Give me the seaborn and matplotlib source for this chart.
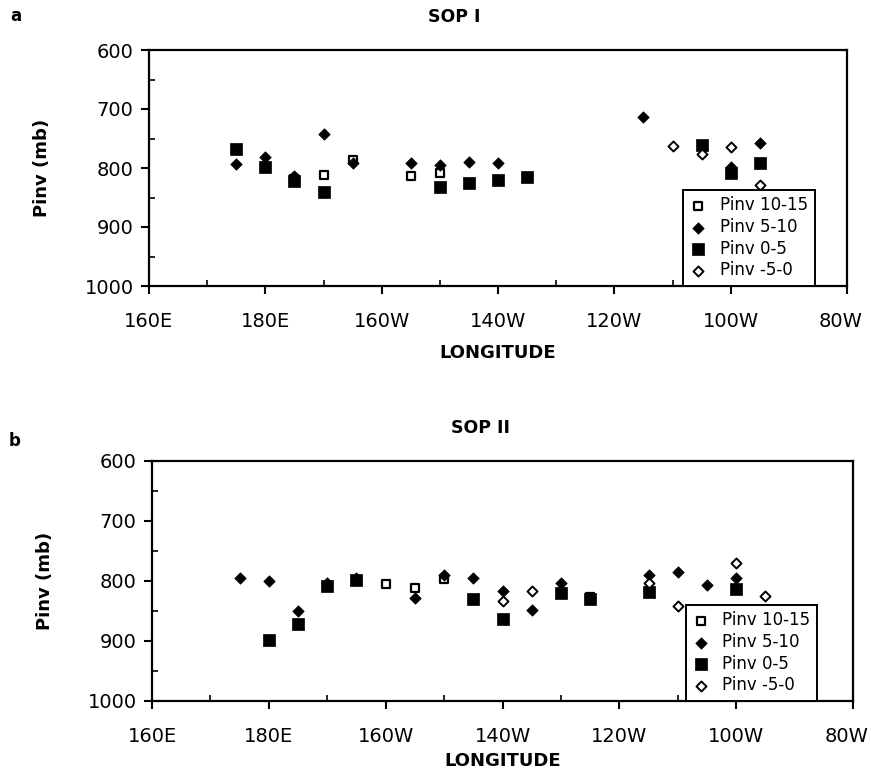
import matplotlib
matplotlib.use("Agg")
import matplotlib.pyplot as plt
import matplotlib.transforms as mtransforms
import seaborn as sns
import pandas as pd
from matplotlib.ticker import MultipleLocator

sns.set_style("ticks")
plt.rcParams['font.family'] = ['DejaVu Sans']
plt.rcParams['text.color'] = 'black'
plt.rcParams['axes.labelcolor'] = 'black'
plt.rcParams['xtick.color'] = 'black'
plt.rcParams['ytick.color'] = 'black'

# Longitude in degrees east (160E=160, 180=180, 160W=200, ... 80W=280)
xtick_vals = [160, 180, 200, 220, 240, 260, 280]
xtick_labels = ["160E", "180E", "160W", "140W", "120W", "100W", "80W"]
ytick_vals = [600, 700, 800, 900, 1000]

series_names = ["Pinv 10-15", "Pinv 5-10", "Pinv 0-5", "Pinv -5-0"]

# SOP I
sop1_lon_10_15 = [185, 190, 195, 205, 210]
sop1_p_10_15 = [818, 812, 787, 813, 809]
sop1_lon_5_10 = [175, 180, 185, 190, 195, 205, 210, 215, 220, 245, 260, 265]
sop1_p_5_10 = [793, 781, 814, 742, 792, 792, 795, 789, 791, 713, 798, 758]
sop1_lon_0_5 = [175, 180, 185, 190, 210, 215, 220, 225, 255, 260, 265]
sop1_p_0_5 = [768, 798, 822, 841, 833, 825, 821, 815, 761, 808, 791]
sop1_lon_m5_0 = [250, 255, 260, 265]
sop1_p_m5_0 = [762, 776, 764, 828]

# SOP II
sop2_lon_10_15 = [200, 205, 210, 235]
sop2_p_10_15 = [805, 812, 797, 827]
sop2_lon_5_10 = [175, 180, 185, 190, 195, 205, 210, 215, 220, 225, 230, 245, 250, 255, 260]
sop2_p_5_10 = [795, 800, 850, 804, 795, 828, 790, 795, 817, 848, 803, 790, 785, 807, 795]
sop2_lon_0_5 = [180, 185, 190, 195, 215, 220, 230, 235, 245, 260]
sop2_p_0_5 = [898, 872, 808, 798, 830, 863, 820, 830, 818, 813]
sop2_lon_m5_0 = [220, 225, 245, 250, 260, 265]
sop2_p_m5_0 = [833, 817, 803, 842, 770, 825]

styles = {
    "Pinv 10-15": dict(marker="s", s=40, facecolor="white", edgecolor="black", linewidth=1.6),
    "Pinv 5-10": dict(marker="D", s=34, facecolor="black", edgecolor="black", linewidth=0.5),
    "Pinv 0-5": dict(marker="s", s=70, facecolor="black", edgecolor="black", linewidth=0.5),
    "Pinv -5-0": dict(marker="D", s=26, facecolor="white", edgecolor="black", linewidth=1.4),
}

def make_df(lons, ps):
    rows = []
    for name, lo, pv in zip(series_names, lons, ps):
        for a, b in zip(lo, pv):
            rows.append((name, a, b))
    return pd.DataFrame(rows, columns=["series", "lon", "pinv"])

df1 = make_df([sop1_lon_10_15, sop1_lon_5_10, sop1_lon_0_5, sop1_lon_m5_0],
              [sop1_p_10_15, sop1_p_5_10, sop1_p_0_5, sop1_p_m5_0])
df2 = make_df([sop2_lon_10_15, sop2_lon_5_10, sop2_lon_0_5, sop2_lon_m5_0],
              [sop2_p_10_15, sop2_p_5_10, sop2_p_0_5, sop2_p_m5_0])

fig = plt.figure(figsize=(8.71, 7.75), dpi=100)
W, H = 871, 775

def add_axes(l, r, t, b):
    return fig.add_axes([l / W, 1 - b / H, (r - l) / W, (b - t) / H])

ax1 = add_axes(149, 847, 50, 286)
ax2 = add_axes(152, 853, 461, 701)

def draw(ax, df, title, title_x, letter, letter_xy, leg_x, xlabelpad):
    for name in series_names:
        sub = df[df["series"] == name]
        st = styles[name]
        sns.scatterplot(data=sub, x="lon", y="pinv", ax=ax, marker=st["marker"], s=st["s"],
                        facecolor=st["facecolor"], edgecolor=st["edgecolor"],
                        linewidth=st["linewidth"], label=name, zorder=3)
    ax.set_xlim(160, 280)
    ax.set_ylim(1000, 600)
    ax.set_xticks(xtick_vals)
    ax.set_xticklabels(xtick_labels)
    ax.set_yticks(ytick_vals)
    ax.xaxis.set_minor_locator(MultipleLocator(10))
    ax.yaxis.set_minor_locator(MultipleLocator(50))
    ax.tick_params(axis="both", which="major", direction="out", length=6, width=1.5,
                   labelsize=14, color="black", labelcolor="black")
    ax.tick_params(axis="x", which="major", pad=13)
    ax.tick_params(axis="y", which="major", pad=5)
    ax.tick_params(axis="both", which="minor", direction="in", length=4, width=1.2)
    ax.tick_params(axis="y", which="both", right=False)
    ax.tick_params(axis="x", which="both", top=False)
    # shift last x label slightly left as in the reference
    lbl = ax.get_xticklabels()[-1]
    lbl.set_transform(lbl.get_transform() + mtransforms.ScaledTranslation(-6 / 100, 0, fig.dpi_scale_trans))
    for sp in ax.spines.values():
        sp.set_visible(True)
        sp.set_linewidth(1.6)
        sp.set_color("black")
    ax.set_xlabel("LONGITUDE", fontsize=13, fontweight="bold", labelpad=xlabelpad)
    ax.set_ylabel("Pinv (mb)", fontsize=13, fontweight="bold", labelpad=24)
    ax.set_title(title, fontsize=12.5, fontweight="bold", pad=20, x=title_x)
    fig.text(letter_xy[0] / W, 1 - letter_xy[1] / H, letter, fontsize=12, fontweight="bold",
             va="center", ha="left")
    leg = ax.legend(loc="lower right", bbox_to_anchor=(leg_x, 0.0), borderaxespad=0,
                    fontsize=12, frameon=True, fancybox=False, handletextpad=0.8,
                    labelspacing=0.22, borderpad=0.4, handlelength=1.0)
    leg.get_frame().set_edgecolor("black")
    leg.get_frame().set_linewidth(1.4)
    leg.get_frame().set_alpha(1)
    for t in leg.get_texts():
        t.set_color("black")

draw(ax1, df1, "SOP I", 0.438, "a", (10, 16), 0.954, 9)
draw(ax2, df2, "SOP II", 0.468, "b", (9, 441), 0.949, 4)

fig.savefig("out.png", dpi=100, facecolor="white")
